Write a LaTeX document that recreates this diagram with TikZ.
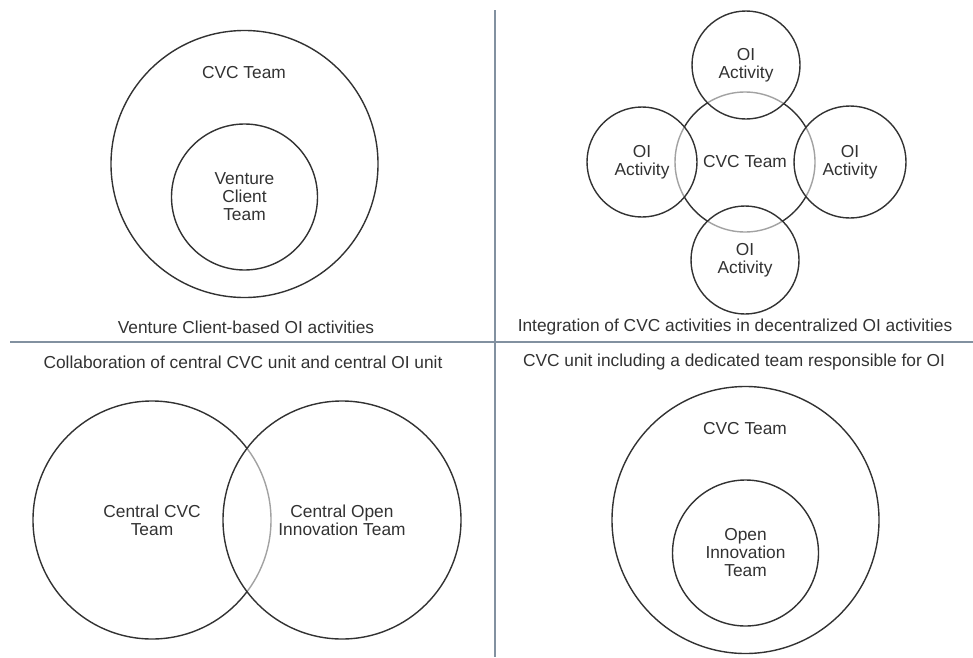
\documentclass[tikz,border=0pt]{standalone}
\usepackage{fontspec}
\setmainfont{Liberation Sans}
\usetikzlibrary{positioning}

\definecolor{inkgray}{RGB}{50,50,50}
\definecolor{rulegray}{RGB}{130,145,160}

\begin{document}
\begin{tikzpicture}[
    x=0.75pt, y=-0.75pt,
    every node/.style={font=\fontsize{13}{13.5}\selectfont, text=inkgray},
    ring/.style={draw=inkgray, circle, line width=1.05pt, inner sep=0pt,
        minimum size=#1*1.5pt, align=center},
    veil/.style={fill=white, fill opacity=0.55, text opacity=1},
    divider/.style={rulegray, line width=1.5pt}
]
\useasboundingbox (0,0) rectangle (973,657);

% === DIVIDERS ===
\coordinate (hl) at (10,342);
\coordinate (hr) at (973,342);
\coordinate (vt) at (495,10);
\coordinate (vb) at (495,657);
\draw[divider] (hl) -- (hr);
\draw[divider] (vt) -- (vb);

% === TOP LEFT: VENTURE CLIENT ===
\node[ring=133.5] (cvcA) at (244.5,164) {};
\node[ring=73] (vclient) at (244.5,197) {Venture\\Client\\Team};
\node (cvcAlabel) at (244,73) {CVC Team};
\node (captionA) at (246,327) {Venture Client-based OI activities};

% === TOP RIGHT: DECENTRALIZED OI ===
\node[ring=70] (cvcB) at (745,162) {CVC Team};
\node[ring=54, veil] (oiTop) at (746,65) {OI\\Activity};
\node[ring=55, veil] (oiLeft) at (642,162) {OI\\Activity};
\node[ring=56, veil] (oiRight) at (850,162) {OI\\Activity};
\node[ring=54, veil] (oiBottom) at (745,260) {OI\\Activity};
\node (captionB) at (735,327) {Integration of CVC activities in decentralized OI activities};

% === BOTTOM LEFT: COLLABORATION ===
\node (captionC) at (243,362) {Collaboration of central CVC unit and central OI unit};
\node[ring=119] (cvcC) at (152,520) {Central CVC\\Team};
\node[ring=119, veil] (oiC) at (342,520) {Central Open\\Innovation Team};

% === BOTTOM RIGHT: DEDICATED TEAM ===
\node (captionD) at (734,362) {CVC unit including a dedicated team responsible for OI};
\node[ring=133.5] (cvcD) at (745.5,520) {};
\node[ring=73] (oiD) at (745.5,553) {Open\\Innovation\\Team};
\node (cvcDlabel) at (745,429) {CVC Team};

\end{tikzpicture}
\end{document}
